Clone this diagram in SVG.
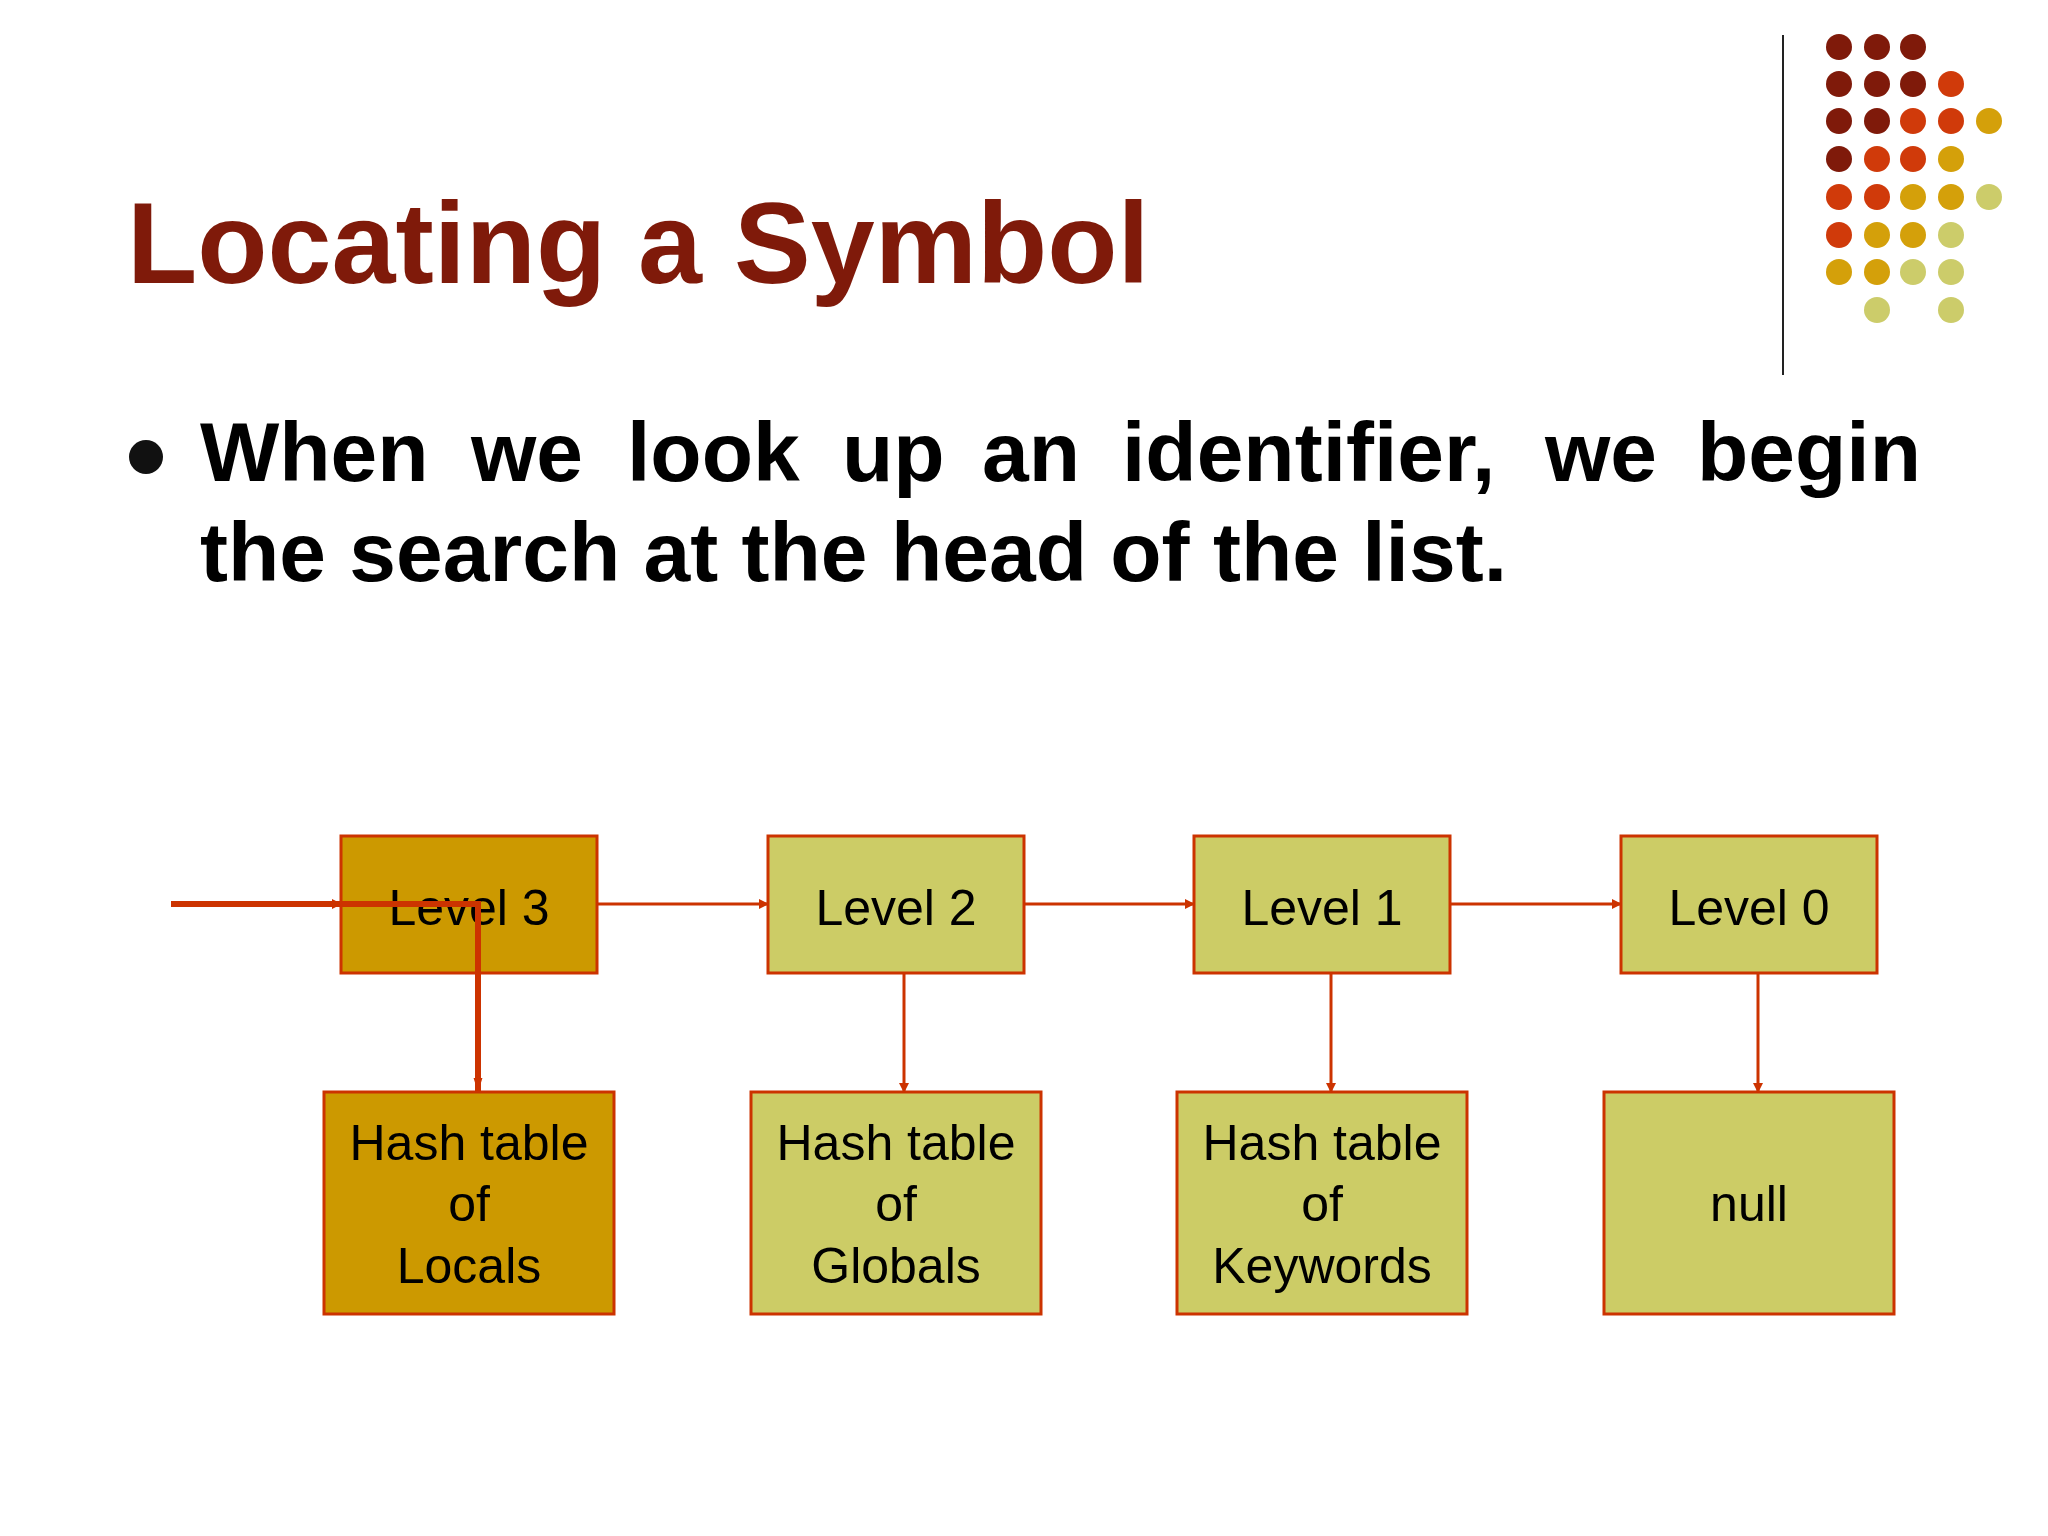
<svg xmlns="http://www.w3.org/2000/svg" width="2048" height="1536" viewBox="0 0 2048 1536">
<defs>
<marker id="a" markerWidth="10" markerHeight="10" refX="9" refY="5" orient="auto" markerUnits="userSpaceOnUse" viewBox="0 0 10 10"><path d="M0,0 L10,5 L0,10 z" fill="#cc3300"/></marker>
<marker id="b" markerWidth="14" markerHeight="22" refX="22" refY="7" orient="auto" markerUnits="userSpaceOnUse" viewBox="0 0 22 14"><path d="M0,0 L22,7 L0,14 z" fill="#cc3300"/></marker>
</defs>
<style>
.t{font-family:"Liberation Sans",Arial,sans-serif;fill:#000}
.b{font-weight:bold;font-size:84px}
.n{font-size:50px;text-anchor:middle}
.box{stroke:#cc3300;stroke-width:3}
.c{stroke:#cc3300;stroke-width:3;fill:none}
</style>
<rect width="2048" height="1536" fill="#fff"/>
<text x="127" y="283" font-family="Liberation Sans,Arial,sans-serif" font-weight="bold" font-size="115" fill="#7f1a0a">Locating a Symbol</text>
<line x1="1783" y1="35" x2="1783" y2="375" stroke="#222" stroke-width="2"/>
<g id="dots">
<g fill="#7f1a0a">
<circle cx="1839" cy="47" r="13"/><circle cx="1877" cy="47" r="13"/><circle cx="1913" cy="47" r="13"/>
<circle cx="1839" cy="84" r="13"/><circle cx="1877" cy="84" r="13"/><circle cx="1913" cy="84" r="13"/>
<circle cx="1839" cy="121" r="13"/><circle cx="1877" cy="121" r="13"/>
<circle cx="1839" cy="159" r="13"/>
</g>
<g fill="#d03a0a">
<circle cx="1951" cy="84" r="13"/>
<circle cx="1913" cy="121" r="13"/><circle cx="1951" cy="121" r="13"/>
<circle cx="1877" cy="159" r="13"/><circle cx="1913" cy="159" r="13"/>
<circle cx="1839" cy="197" r="13"/><circle cx="1877" cy="197" r="13"/>
<circle cx="1839" cy="235" r="13"/>
</g>
<g fill="#d4a00a">
<circle cx="1989" cy="121" r="13"/>
<circle cx="1951" cy="159" r="13"/>
<circle cx="1913" cy="197" r="13"/><circle cx="1951" cy="197" r="13"/>
<circle cx="1877" cy="235" r="13"/><circle cx="1913" cy="235" r="13"/>
<circle cx="1839" cy="272" r="13"/><circle cx="1877" cy="272" r="13"/>
</g>
<g fill="#cccc6a">
<circle cx="1989" cy="197" r="13"/>
<circle cx="1951" cy="235" r="13"/>
<circle cx="1913" cy="272" r="13"/><circle cx="1951" cy="272" r="13"/>
<circle cx="1877" cy="310" r="13"/><circle cx="1951" cy="310" r="13"/>
</g>
</g>
<circle cx="146" cy="457" r="17" fill="#111"/>
<g class="t b">
<text x="200" y="481">When</text><text x="471" y="481">we</text><text x="627" y="481">look</text><text x="842" y="481">up</text><text x="982" y="481">an</text><text x="1122" y="481">identifier,</text><text x="1545" y="481">we</text><text x="1921" y="481" text-anchor="end">begin</text>
<text x="200" y="581">the search at the head of the list.</text>
</g>
<g id="level3"><rect class="box" x="341" y="836" width="256" height="137" fill="#cc9900"/><text class="t n" x="469" y="925">Level 3</text></g>
<g id="level2"><rect class="box" x="768" y="836" width="256" height="137" fill="#cccc66"/><text class="t n" x="896" y="925">Level 2</text></g>
<g id="level1"><rect class="box" x="1194" y="836" width="256" height="137" fill="#cccc66"/><text class="t n" x="1322" y="925">Level 1</text></g>
<g id="level0"><rect class="box" x="1621" y="836" width="256" height="137" fill="#cccc66"/><text class="t n" x="1749" y="925">Level 0</text></g>
<g id="locals"><rect class="box" x="324" y="1092" width="290" height="222" fill="#cc9900"/><text class="t n" x="469" y="1160">Hash table</text><text class="t n" x="469" y="1221">of</text><text class="t n" x="469" y="1283">Locals</text></g>
<g id="globals"><rect class="box" x="751" y="1092" width="290" height="222" fill="#cccc66"/><text class="t n" x="896" y="1160">Hash table</text><text class="t n" x="896" y="1221">of</text><text class="t n" x="896" y="1283">Globals</text></g>
<g id="keywords"><rect class="box" x="1177" y="1092" width="290" height="222" fill="#cccc66"/><text class="t n" x="1322" y="1160">Hash table</text><text class="t n" x="1322" y="1221">of</text><text class="t n" x="1322" y="1283">Keywords</text></g>
<g id="null"><rect class="box" x="1604" y="1092" width="290" height="222" fill="#cccc66"/><text class="t n" x="1749" y="1221">null</text></g>
<g id="connectors">
<line class="c" x1="171" y1="904" x2="341" y2="904" marker-end="url(#a)"/>
<line class="c" x1="597" y1="904" x2="768" y2="904" marker-end="url(#a)"/>
<line class="c" x1="1024" y1="904" x2="1194" y2="904" marker-end="url(#a)"/>
<line class="c" x1="1450" y1="904" x2="1621" y2="904" marker-end="url(#a)"/>
<line class="c" x1="904" y1="973" x2="904" y2="1092" marker-end="url(#a)"/>
<line class="c" x1="1331" y1="973" x2="1331" y2="1092" marker-end="url(#a)"/>
<line class="c" x1="1758" y1="973" x2="1758" y2="1092" marker-end="url(#a)"/>
<path d="M171,904 H478 V1092" fill="none" stroke="#cc3300" stroke-width="6" marker-end="url(#b)"/>
</g>
</svg>
